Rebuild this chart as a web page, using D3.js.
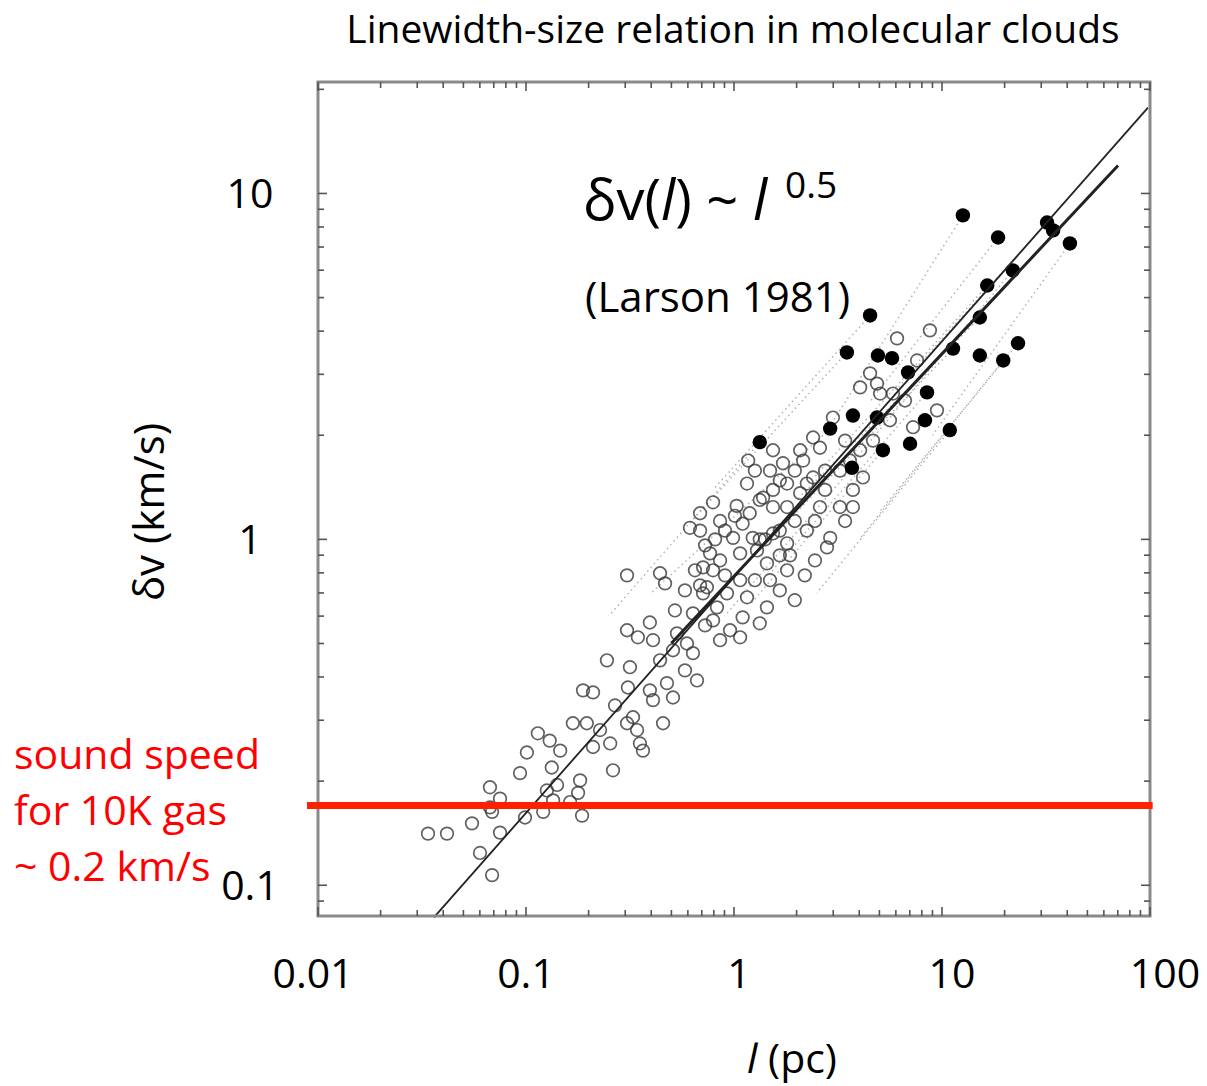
<!DOCTYPE html>
<html><head><meta charset="utf-8">
<script src="https://cdn.jsdelivr.net/npm/d3@7"></script>
<style>body{margin:0;background:#fff}</style></head>
<body>
<svg id="c" width="1207" height="1086"></svg>
<script>
// ---- data (size l in pc, linewidth dv in km/s) ----
const openL = [0.0338,0.0417,0.055,0.0687,0.075,0.0671,0.075,0.0601,0.0687,0.0989,0.121,0.135,0.141,0.186,0.178,0.163,0.0671,0.0936,0.101,0.114,0.130,0.146,0.133,0.126,0.182,0.168,0.196,0.188,0.210,0.245,0.309,0.316,0.306,0.345,0.394,0.408,0.306,0.441,0.466,0.327,0.342,0.353,0.306,0.365,0.262,0.227,0.254,0.210,0.408,0.476,0.509,0.456,0.509,0.532,0.664,0.635,0.594,0.710,0.793,0.635,0.687,0.687,0.793,1.155,1.17,0.767,0.710,0.741,0.828,0.925,1.07,0.99,1.10,1.23,1.29,1.44,1.80,1.155,1.10,1.44,0.957,1.07,2.24,2.80,2.90,3.23,3.73,2.59,1.80,1.54,1.54,1.80,2.08,2.40,1.72,2.08,2.40,1.54,2.99,4.66,4.17,3.73,4.87,5.81,0.614,0.687,1.54,1.19,1.38,2.24,1.80,0.793,1.33,6.08,8.75,7.59,4.51,4.04,5.04,9.46,7.26,2.59,2.15,0.857,1.03,1.66,0.905,1.26,1.66,1.86,1.41,0.811,1.96,3.23,3.61,2.74,4.04,5.62,6.64,3.42,
  0.520,0.581,0.649,0.726,0.857,0.905,1.01,1.33,1.49,1.66,1.96,1.26,1.07,1.49,1.96,2.45,2.19,0.857,0.726,0.581,0.441,0.268,0.394,1.33,1.66,2.45,2.74,3.42];
const openV = [0.141,0.141,0.151,0.163,0.178,0.192,0.142,0.124,0.107,0.157,0.163,0.176,0.195,0.159,0.185,0.174,0.168,0.211,0.242,0.275,0.262,0.245,0.219,0.188,0.201,0.294,0.294,0.366,0.361,0.447,0.373,0.427,0.546,0.521,0.575,0.511,0.787,0.798,0.746,0.306,0.281,0.257,0.294,0.245,0.215,0.281,0.257,0.251,0.343,0.384,0.349,0.294,0.478,0.535,0.391,0.469,0.500,0.698,0.583,0.611,1.06,1.19,1.28,1.45,1.69,0.911,0.830,0.727,0.636,0.698,0.911,1.01,1.11,1.01,0.929,0.852,0.814,0.680,0.595,0.636,0.546,0.521,1.06,0.948,1.01,1.24,1.24,1.24,1.24,1.24,1.39,1.45,1.36,1.51,1.66,1.81,1.97,1.81,2.25,1.93,1.51,1.39,2.82,2.64,1.08,0.736,1.04,1.19,1.32,1.45,0.974,0.814,0.572,3.81,4.02,3.29,3.02,2.75,2.64,2.36,2.11,1.84,1.69,1.13,1.25,1.06,0.787,0.762,0.712,0.899,1.0,1.0,1.13,1.58,1.69,1.58,1.81,2.21,2.52,1.93,
  0.623,0.712,0.814,0.961,0.869,1.06,1.17,1.30,1.58,1.48,1.58,1.58,0.762,0.762,0.667,0.869,0.787,0.511,0.564,0.418,0.447,0.331,0.366,1.0,0.899,1.13,1.39,1.13];
const filledL = [1.33,12.6,18.6,32.0,34.2,41.2,21.9,16.5,15.2,23.2,19.7,15.2,11.3,4.51,3.49,4.92,5.75,6.87,8.47,8.28,10.9,7.02,5.20,4.87,3.73,2.90,3.69];
const filledV = [1.91,8.64,7.46,8.24,7.82,7.17,5.99,5.42,4.38,3.69,3.29,3.40,3.56,4.44,3.47,3.40,3.34,3.04,2.66,2.21,2.07,1.89,1.81,2.25,2.28,2.09,1.61];
// faint dotted connectors: [l1, v1, l2, v2]
const dottedSegs = [[12.6,8.64,3.0,2.2],[18.6,7.46,4.5,2.5],[32,8.24,6,2.7],[41.2,7.17,9,2.0],[21.9,5.99,3.5,1.6],[16.5,5.42,2.4,1.5],[23.2,3.69,5,1.2],[19.7,3.29,4,1.0],[15.2,4.38,2,1.3],[11.3,3.56,1.5,1.0],[4.51,4.44,0.8,1.4],[3.49,3.47,0.6,1.1],[8.47,2.66,1.5,0.8],[10.9,2.07,2.5,0.7],[5.2,1.81,1.2,0.65],[3.69,1.61,0.9,0.6],[2.9,2.09,0.4,0.7],[1.33,1.91,0.25,0.6]];
// fit lines [l1, v1, l2, v2]
const fitThin = [0.0361,0.0808,97.8,17.7];
const fitThick = [0.5,0.501,70.2,12.05];
const soundSpeed = 0.17;
const soundRange = [0.00885,103];
const xTicks = [0.01,0.1,1,10,100];
const xTickLabels = ["0.01","0.1","1","10","100"];
const yTicks = [0.1,1,10];
const yTickLabels = ["0.1","1","10"];

const svg = d3.select("#c");
const F = "'Open Sans', 'DejaVu Sans', sans-serif";
const x = d3.scaleLog().domain([0.01,100]).range([318,1150]);
const xLab = d3.scaleLog().domain([0.01,100]).range([313,1165]);
const y = d3.scaleLog().domain([0.0815,21]).range([916,82]);

// dotted connectors
svg.append("g").selectAll("line").data(dottedSegs).join("line")
  .attr("x1",d=>x(d[0])).attr("y1",d=>y(d[1])).attr("x2",d=>x(d[2])).attr("y2",d=>y(d[3]))
  .attr("stroke","#9a9a9a").attr("stroke-width",1.5).attr("stroke-dasharray","1.5,3.5").attr("opacity",0.75);

// open circles
svg.append("g").selectAll("circle").data(openL.map((l,i)=>[l,openV[i]])).join("circle")
  .attr("cx",d=>x(d[0])).attr("cy",d=>y(d[1])).attr("r",6.3)
  .attr("fill","none").attr("stroke","#3a3a3a").attr("stroke-width",1.7).attr("opacity",0.8);

// filled circles
svg.append("g").selectAll("circle").data(filledL.map((l,i)=>[l,filledV[i]])).join("circle")
  .attr("cx",d=>x(d[0])).attr("cy",d=>y(d[1])).attr("r",7.2).attr("fill","#000");

// fit lines
[[fitThin,1.8],[fitThick,3]].forEach(([f,w])=>{
  svg.append("line").attr("x1",x(f[0])).attr("y1",y(f[1])).attr("x2",x(f[2])).attr("y2",y(f[3]))
    .attr("stroke","#222").attr("stroke-width",w);
});

// frame
const [x0,x1] = x.range(), [y0,y1] = [y(21), y(0.0815)];
svg.append("rect").attr("x",x0).attr("y",y0).attr("width",x1-x0).attr("height",y1-y0)
  .attr("fill","none").attr("stroke","#8a8a8a").attr("stroke-width",3);
const xt = x.ticks(), yt = y.ticks().filter(v=>v>=0.0815&&v<=21);
const isMaj = v => Math.abs(Math.log10(v)-Math.round(Math.log10(v)))<1e-6;
const tg = svg.append("g").attr("stroke","#555").attr("stroke-width",1.6);
xt.forEach(v=>{
  const L = isMaj(v)?9:6;
  tg.append("line").attr("x1",x(v)).attr("x2",x(v)).attr("y1",y1).attr("y2",y1-L);
  tg.append("line").attr("x1",x(v)).attr("x2",x(v)).attr("y1",y0).attr("y2",y0+L);
});
yt.forEach(v=>{
  const L = isMaj(v)?9:6;
  tg.append("line").attr("y1",y(v)).attr("y2",y(v)).attr("x1",x0).attr("x2",x0+L);
  tg.append("line").attr("y1",y(v)).attr("y2",y(v)).attr("x1",x1).attr("x2",x1-L);
});

// sound speed line
svg.append("line").attr("x1",x(soundRange[0])).attr("x2",x(soundRange[1]))
  .attr("y1",y(soundSpeed)).attr("y2",y(soundSpeed))
  .attr("stroke","#ff2200").attr("stroke-width",7);

// tick labels
svg.append("g").selectAll("text").data(xTicks).join("text")
  .attr("x",d=>xLab(d)).attr("y",988).attr("text-anchor","middle")
  .attr("font-family",F).attr("font-size",41).attr("fill","#000")
  .text((d,i)=>xTickLabels[i]);
svg.append("g").selectAll("text").data(yTicks).join("text")
  .attr("x",250).attr("y",d=>y(d)+15).attr("text-anchor","middle")
  .attr("font-family",F).attr("font-size",41).attr("fill","#000")
  .text((d,i)=>yTickLabels[i]);

// title
svg.append("text").attr("x",733).attr("y",43).attr("text-anchor","middle")
  .attr("font-family",F).attr("font-size",39).text("Linewidth-size relation in molecular clouds");

// axis labels
const xl = svg.append("text").attr("x",792).attr("y",1073).attr("text-anchor","middle")
  .attr("font-family",F).attr("font-size",41);
xl.append("tspan").attr("font-style","italic").text("l");
xl.append("tspan").text(" (pc)");
svg.append("text").attr("transform","translate(164,512) rotate(-90)").attr("text-anchor","middle")
  .attr("font-family",F).attr("font-size",42).text("δv (km/s)");

// annotation
const an = svg.append("text").attr("x",583).attr("y",220).attr("font-family",F).attr("font-size",56);
an.append("tspan").text("δv(");
an.append("tspan").attr("font-style","italic").text("l");
an.append("tspan").text(") ~ ");
an.append("tspan").attr("font-style","italic").text("l");
an.append("tspan").attr("font-size",37).attr("dy",-22).attr("dx",18).text("0.5");
svg.append("text").attr("x",585).attr("y",312).attr("font-family",F).attr("font-size",42).text("(Larson 1981)");

// red annotation
const red = svg.append("text").attr("font-family",F).attr("font-size",41).attr("fill","#ff0000");
["sound speed","for 10K gas","~ 0.2 km/s"].forEach((t,i)=>{
  red.append("tspan").attr("x",14).attr("y",769+i*56).text(t);
});
</script>
</body></html>
